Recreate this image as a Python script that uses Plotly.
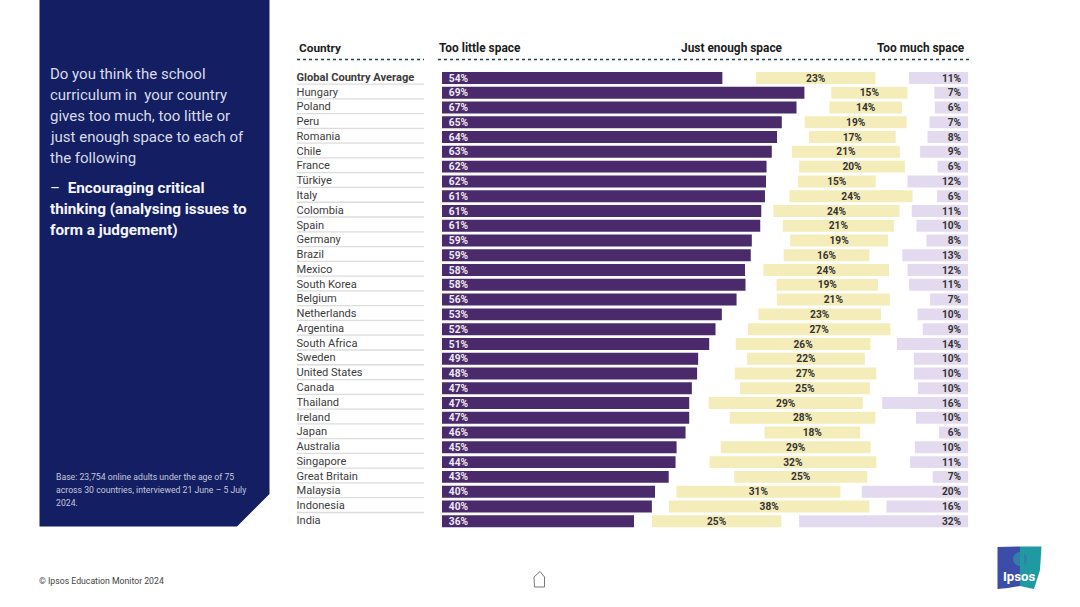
import numpy as np
import plotly.graph_objects as go

W, H = 1080, 607
FONT = 'Roboto'

countries = ['Global Country Average', 'Hungary', 'Poland', 'Peru', 'Romania', 'Chile', 'France',
             'Türkiye', 'Italy', 'Colombia', 'Spain', 'Germany', 'Brazil', 'Mexico', 'South Korea',
             'Belgium', 'Netherlands', 'Argentina', 'South Africa', 'Sweden', 'United States',
             'Canada', 'Thailand', 'Ireland', 'Japan', 'Australia', 'Singapore', 'Great Britain',
             'Malaysia', 'Indonesia', 'India']

# bar lengths
too_little = [53.3, 68.9, 67.4, 64.6, 63.7, 62.7, 61.7, 61.6, 61.4, 60.7, 60.5, 58.9, 58.7, 57.6, 57.7,
              56.0, 53.2, 52.0, 50.8, 48.7, 48.5, 47.5, 47.0, 47.0, 46.3, 44.6, 44.4, 43.1, 40.5, 39.9, 36.5]
just_enough = [22.7, 14.5, 13.8, 19.4, 16.5, 20.5, 20.1, 14.8, 23.4, 24.0, 21.1, 18.6, 16.3, 23.9, 19.3,
               21.5, 23.3, 27.1, 25.6, 22.4, 26.9, 24.7, 29.3, 27.7, 18.2, 28.5, 31.7, 25.3, 31.2, 38.1, 24.6]
too_much = [11.2, 6.4, 6.3, 7.3, 7.7, 9.1, 5.8, 11.5, 5.9, 10.7, 9.8, 7.9, 12.5, 11.5, 11.2,
            7.2, 9.6, 8.6, 13.5, 10.3, 10.3, 9.5, 16.3, 9.9, 5.5, 10.1, 11.0, 6.7, 20.2, 15.5, 32.1]

# the printed labels
too_little_labels = [54, 69, 67, 65, 64, 63, 62, 62, 61, 61, 61, 59, 59, 58, 58,
                     56, 53, 52, 51, 49, 48, 47, 47, 47, 46, 45, 44, 43, 40, 40, 36]
just_enough_labels = [23, 15, 14, 19, 17, 21, 20, 15, 24, 24, 21, 19, 16, 24, 19,
                      21, 23, 27, 26, 22, 27, 25, 29, 28, 18, 29, 32, 25, 31, 38, 25]
too_much_labels = [11, 7, 6, 7, 8, 9, 6, 12, 6, 11, 10, 8, 13, 12, 11,
                   7, 10, 9, 14, 10, 10, 10, 16, 10, 6, 10, 11, 7, 20, 16, 32]

question_lines = ['Do you think the school', 'curriculum in  your country', 'gives too much, too little or',
                  'just enough space to each of', 'the following']
statement_lines = ['<span style="font-weight:400">–</span>  <b>Encouraging critical</b>',
                   '<b>thinking (analysing issues to</b>', '<b>form a judgement)</b>']
base_lines = ['Base: 23,754 online adults under the age of 75',
              'across 30 countries, interviewed 21 June – 5 July', '2024.']

LABEL_NUDGE = 0.07  # text sits a touch below the bar centre


def px(x):
    return x / W


def py(y):
    return 1 - y / H


def path(points):
    """SVG path in paper coordinates from pixel points."""
    return 'M ' + ' L '.join(f'{px(x):.5f},{py(y):.5f}' for x, y in points) + ' Z'


def pct(values):
    return [f'{v}%' for v in values]


def add_text(fig, x, y, text, size, color, anchor='left'):
    fig.add_annotation(x=px(x), y=py(y), xref='paper', yref='paper', text=text, showarrow=False,
                       xanchor=anchor, yanchor='middle', align=anchor, borderpad=0, borderwidth=0,
                       font=dict(family=FONT, size=size, color=color))


def add_bars(fig):
    y = np.arange(len(countries))
    little = np.array(too_little)
    enough = np.array(just_enough)
    much = np.array(too_much)
    gap = (100 - little - enough - much) / 2
    enough_base = little + gap
    much_base = 100 - much
    for values, base, color in [(little, None, '#4A2A6A'), (enough, enough_base, '#F5EDB9'),
                                (much, much_base, '#E3DAF0')]:
        fig.add_trace(go.Bar(x=values, y=y, base=base, orientation='h', width=0.81,
                             marker_color=color, marker_line_width=0, hoverinfo='skip'))
    label_sets = [
        (np.full(len(y), 1.3), too_little_labels, 'middle right', '#EFE9F5'),
        (enough_base + enough / 2, just_enough_labels, 'middle center', '#333333'),
        (np.full(len(y), 98.7), too_much_labels, 'middle left', '#333333'),
    ]
    for x, labels, position, color in label_sets:
        fig.add_trace(go.Scatter(x=x, y=y + LABEL_NUDGE, mode='text', text=pct(labels), textposition=position,
                                 textfont=dict(family=FONT, size=10.2, color=color, weight=700),
                                 hoverinfo='skip', cliponaxis=False))
    names = [f'<b>{c}</b>' if i == 0 else c for i, c in enumerate(countries)]
    fig.add_trace(go.Scatter(x=[0] * len(y), y=y, mode='text', text=names,
                             textposition='middle right', xaxis='x2',
                             textfont=dict(family=FONT, size=11.1, color='#3c3c3c'),
                             hoverinfo='skip', cliponaxis=False))
    for i in y[:-1]:
        fig.add_shape(type='line', xref='paper', yref='y', x0=px(297), x1=px(424), y0=i + 0.41, y1=i + 0.41,
                      line=dict(color='#dcdcdc', width=1.3))


def add_panel(fig):
    fig.add_shape(type='path', xref='paper', yref='paper', line_width=0, fillcolor='#141E62', layer='below',
                  path=path([(39.5, 0), (269.5, 0), (269.5, 494), (237, 526.5), (39.5, 526.5)]))
    for i, line in enumerate(question_lines):
        add_text(fig, 50, 74 + 21 * i, line, 15, '#D9DCE9')
    for i, line in enumerate(statement_lines):
        add_text(fig, 50, 188 + 21 * i, line, 15.3, '#F4F5FA')
    for i, line in enumerate(base_lines):
        add_text(fig, 56, 477 + 13 * i, line, 8.7, '#C4C8DC')


def add_headers(fig):
    add_text(fig, 299, 48.5, '<b>Country</b>', 11.8, '#1c1c1c')
    add_text(fig, 439, 47.5, '<b>Too little space</b>', 11.9, '#1c1c1c')
    add_text(fig, 732, 47.5, '<b>Just enough space</b>', 11.9, '#1c1c1c', 'center')
    add_text(fig, 965, 47.5, '<b>Too much space</b>', 11.9, '#1c1c1c', 'right')
    for x0, x1 in [(297, 424), (438, 969)]:
        fig.add_shape(type='line', xref='paper', yref='paper', x0=px(x0), x1=px(x1), y0=py(59.5), y1=py(59.5),
                      line=dict(color='#24424c', width=1.3, dash='dot'))


def add_footer(fig):
    add_text(fig, 39, 580.5, '© Ipsos Education Monitor 2024', 8.7, '#444444')
    fig.add_shape(type='path', xref='paper', yref='paper', line=dict(color='#777777', width=1),
                  path=path([(534, 577), (540, 571.5), (544.5, 577), (544.5, 587), (534.5, 587)]))
    # logo
    fig.add_shape(type='path', xref='paper', yref='paper', line_width=0, fillcolor='#3B4DA8',
                  path=path([(997.5, 547), (1020, 546.5), (1020, 586), (1008, 588), (997.5, 589)]))
    fig.add_shape(type='path', xref='paper', yref='paper', line_width=0, fillcolor='#1F9AA3',
                  path=path([(1020, 546.5), (1041.5, 546.5), (1040, 570), (1034, 589), (1020, 586)]))
    fig.add_shape(type='circle', xref='paper', yref='paper', line_width=0, fillcolor='#2F7FA8',
                  x0=px(1013), x1=px(1027), y0=py(566), y1=py(552))
    fig.add_shape(type='rect', xref='paper', yref='paper', line_width=0, fillcolor='#1F9AA3',
                  x0=px(1020), x1=px(1024), y0=py(566), y1=py(552))
    add_text(fig, 1019, 576.5, '<b>Ipsos</b>', 13.2, '#ffffff', 'center')


def main():
    fig = go.Figure()
    add_bars(fig)
    add_panel(fig)
    add_headers(fig)
    add_footer(fig)
    fig.update_layout(
        width=W,
        height=H,
        margin=dict(l=0, r=0, t=0, b=0),
        showlegend=False,
        barmode='overlay',
        paper_bgcolor='white',
        plot_bgcolor='white',
        xaxis=dict(domain=[px(442), px(968)], range=[0, 100], visible=False),
        xaxis2=dict(domain=[px(296.5), px(424)], range=[0, 1], visible=False, anchor='y'),
        yaxis=dict(domain=[py(528.6), py(70.6)], range=[len(countries) - 0.5, -0.5], visible=False),
    )
    fig.write_html('out.html', config={'displayModeBar': False},
                   post_script="document.body.style.margin='0'")


if __name__ == '__main__':
    main()
